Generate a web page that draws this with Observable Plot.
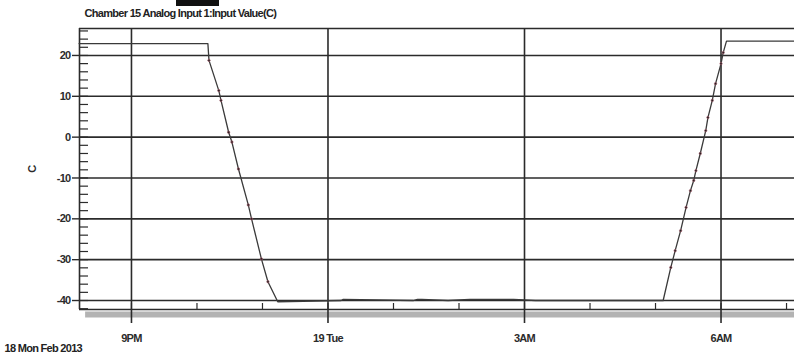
<!DOCTYPE html>
<html>
<head>
<meta charset="utf-8">
<script src="https://cdn.jsdelivr.net/npm/d3@7"></script>
<script src="https://cdn.jsdelivr.net/npm/@observablehq/plot@0.6"></script>
<style>
  html, body { margin: 0; padding: 0; background: #fff; }
  #wrap { position: relative; width: 794px; height: 358px; }
  #redact { position: absolute; left: 176px; top: 0; width: 43px; height: 6px; background: #111; }
</style>
</head>
<body>
<div id="wrap"><div id="redact"></div></div>
<script>
const title = "Chamber 15 Analog Input 1:Input Value(C)";
const yLabel = "C";
const dateLabel = "18 Mon Feb 2013";

const times = [
  "2013-02-18T20:12", "2013-02-18T22:10", "2013-02-18T22:11", "2013-02-18T22:20",
  "2013-02-18T22:22", "2013-02-18T22:29", "2013-02-18T22:32", "2013-02-18T22:38",
  "2013-02-18T22:47", "2013-02-18T22:50", "2013-02-18T22:59", "2013-02-18T23:05",
  "2013-02-18T23:14", "2013-02-19T00:12", "2013-02-19T00:14", "2013-02-19T01:18",
  "2013-02-19T01:22", "2013-02-19T01:26", "2013-02-19T01:50", "2013-02-19T02:10",
  "2013-02-19T02:22", "2013-02-19T02:50", "2013-02-19T03:10", "2013-02-19T05:07",
  "2013-02-19T05:14", "2013-02-19T05:18", "2013-02-19T05:23", "2013-02-19T05:28",
  "2013-02-19T05:32", "2013-02-19T05:35", "2013-02-19T05:37", "2013-02-19T05:41",
  "2013-02-19T05:46", "2013-02-19T05:48", "2013-02-19T05:52", "2013-02-19T05:55",
  "2013-02-19T06:00", "2013-02-19T06:02", "2013-02-19T06:05", "2013-02-19T07:08"
];
const temps = [
  22.9, 22.9, 18.8, 11.4,
  9.0, 1.2, -1.2, -7.8,
  -16.6, -20.0, -29.8, -35.4,
  -40.3, -40.0, -39.7, -40.0,
  -39.7, -39.7, -40.0, -39.7,
  -39.7, -39.7, -40.0, -40.0,
  -31.9, -27.8, -22.9, -17.2,
  -13.1, -10.6, -8.2, -4.0,
  1.6, 4.8, 9.0, 13.1,
  18.0, 20.7, 23.5, 23.5
];

const xDomain = ["2013-02-18T20:12:24", "2013-02-19T07:07:18"];
const yDomain = [-42.2, 26.6];
const majorTicks = ["2013-02-18T21:00", "2013-02-19T00:00", "2013-02-19T03:00", "2013-02-19T06:00"];
const majorLabels = ["9PM", "19 Tue", "3AM", "6AM"];
const yTicks = [-40, -30, -20, -10, 0, 10, 20];
const yMinorTicks = d3.range(-42, 27, 2);

const toDate = s => new Date(s + "Z");
const data = times.map((t, i) => ({t: toDate(t), v: temps[i]}));
const majorDates = majorTicks.map(toDate);
const labelMap = new Map(majorDates.map((d, i) => [+d, majorLabels[i]]));
const hourTicks = d3.utcHour.range(toDate(xDomain[0]), toDate(xDomain[1]));

const ink = "#2b2b2b";
const font = "'Liberation Sans', Arial, sans-serif";

const chart = Plot.plot({
  width: 794,
  height: 358,
  marginLeft: 79,
  marginRight: 0,
  marginTop: 28,
  marginBottom: 49,
  style: {fontFamily: font, fontSize: "11px", color: ink, background: "#fff", overflow: "visible"},
  x: {type: "utc", domain: xDomain.map(toDate)},
  y: {domain: yDomain},
  marks: [
    // grey band below the axis
    Plot.ruleY([yDomain[0]], {x1: toDate("2013-02-18T20:18"), x2: toDate(xDomain[1]), dy: 5, stroke: "#b3b3b3", strokeWidth: 6}),
    Plot.gridY(yTicks, {stroke: ink, strokeOpacity: 1, strokeWidth: 1.6}),
    Plot.gridX(majorDates, {stroke: ink, strokeOpacity: 1, strokeWidth: 1.6}),
    Plot.ruleY([yDomain[1]], {stroke: ink, strokeWidth: 1.6}),
    Plot.ruleY([yDomain[0]], {stroke: ink, strokeWidth: 1.6}),
    Plot.ruleX([toDate(xDomain[0])], {stroke: ink, strokeWidth: 1.6}),
    Plot.axisY({ticks: yMinorTicks, tickSize: -9, text: null, stroke: ink, strokeWidth: 1.2, label: null}),
    Plot.axisY({ticks: yTicks, tickSize: 7, tickPadding: 2, stroke: ink, strokeWidth: 1.4,
      tickFormat: d => String(d),
      fontWeight: "bold", label: yLabel, labelAnchor: "center", labelOffset: 51, labelArrow: "none"}),
    Plot.axisX({ticks: hourTicks, tickSize: -6, text: null, stroke: ink, strokeWidth: 1.2, label: null}),
    Plot.axisX({ticks: majorDates, tickSize: 14, tickPadding: 11, stroke: ink, strokeWidth: 1.6,
      tickFormat: d => labelMap.get(+d), fontWeight: "bold", label: null}),
    Plot.line(data, {x: "t", y: "v", stroke: "#3a3a3a", strokeWidth: 1.3}),
    Plot.dot(data.filter(d => d.v > -39 && d.v < 22), {x: "t", y: "v", r: 1.2, fill: "#222", stroke: "#b06070", strokeWidth: 0.6}),
    Plot.text([title], {frameAnchor: "top-left", dx: 5, dy: -19, textAnchor: "start", fill: "#222", fontSize: 11, fontWeight: "bold"}),
    Plot.text([dateLabel], {frameAnchor: "bottom-left", dx: -75, dy: 42, textAnchor: "start", fill: "#222", fontSize: 11, fontWeight: "bold"})
  ]
});
chart.querySelectorAll("text").forEach(t => t.setAttribute("letter-spacing", "-0.7"));
document.getElementById("wrap").prepend(chart);
</script>
</body>
</html>
